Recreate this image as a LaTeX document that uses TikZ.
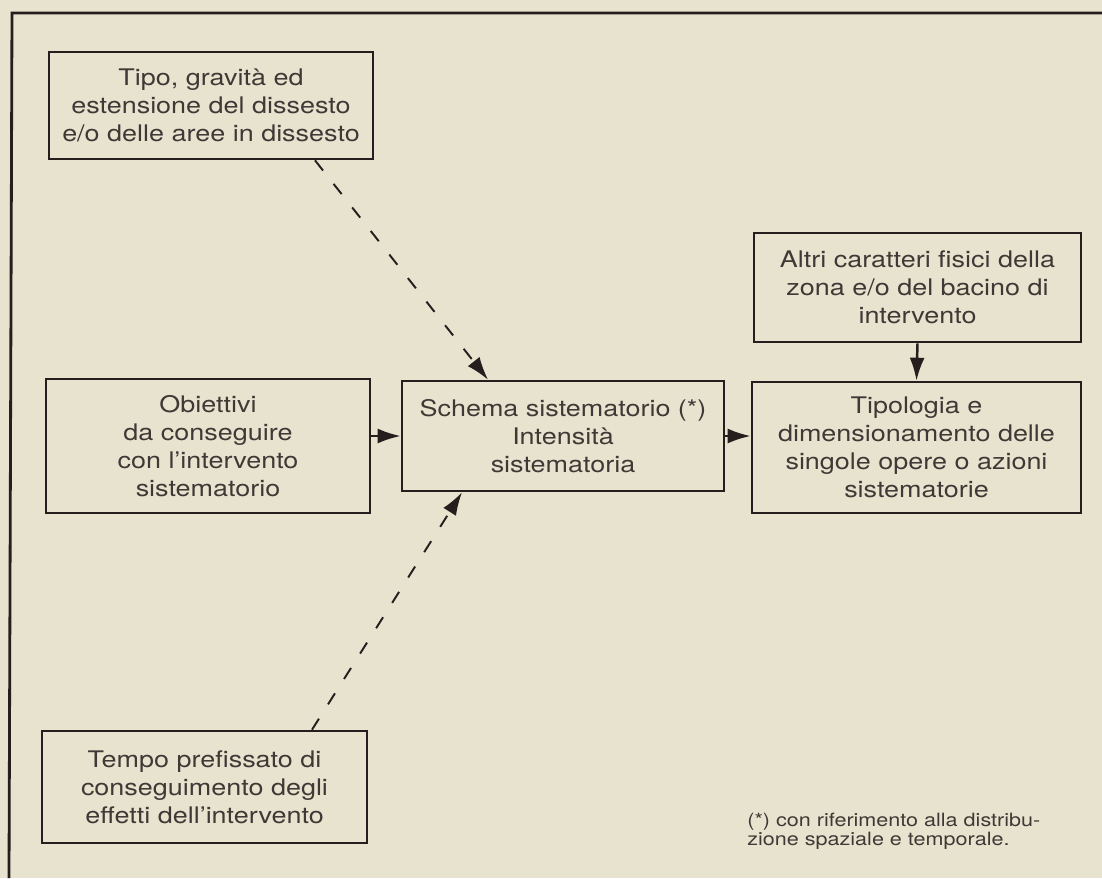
\documentclass[tikz,border=0pt]{standalone}
\usepackage{fontspec}
\setmainfont{TeX Gyre Heros}[FakeStretch=1.18]
\usepackage{xcolor}
\usetikzlibrary{arrows.meta, calc, positioning}

\definecolor{carta}{RGB}{231,227,206}
\definecolor{inchiostro}{RGB}{38,30,30}
\definecolor{testo}{RGB}{62,57,54}

\tikzset{
	blocco/.style={draw=inchiostro, line width=1.5pt, rectangle, align=center, text=testo, inner sep=0pt, font=\fontsize{13}{15.9}\selectfont},
	freccia/.style={draw=inchiostro, line width=1.4pt, -{Latex[length=4.6mm, width=3mm]}},
	tratteggio/.style={freccia, line width=1.1pt, dash pattern=on 2.6mm off 3.4mm},
	nota/.style={align=left, text=testo, inner sep=0pt, font=\fontsize{10.4}{10.8}\selectfont}
}

\begin{document}
\begin{tikzpicture}[x=0.2mm, y=-0.2mm]
			\fill[carta] (0,0) rectangle (1102,878);
			\useasboundingbox (0,0) rectangle (1102,878);
			
			\draw[inchiostro, line width=1.6pt] (1102,13) -- (12,13) -- (9,878);
			
			\node[blocco, minimum width=64.8mm, minimum height=21.4mm] (tipo) at (211,105.5) {Tipo, gravità ed\\estensione del dissesto\\e/o delle aree in dissesto};
			\node[blocco, minimum width=64.8mm, minimum height=26.8mm] (obiettivi) at (208,446) {Obiettivi\\da conseguire\\con l'intervento\\sistematorio};
			\node[blocco, minimum width=64.4mm, minimum height=22mm] (schema) at (563,436) {Schema sistematorio (*)\\Intensità\\sistematoria};
			\node[blocco, minimum width=65.4mm, minimum height=21.8mm] (altri) at (917.5,287.5) {Altri caratteri fisici della\\zona e/o del bacino di\\intervento};
			\node[blocco, minimum width=65.8mm, minimum height=26.2mm] (tipologia) at (916.5,447.5) {Tipologia e\\dimensionamento delle\\singole opere o azioni\\sistematorie};
			\node[blocco, minimum width=65mm, minimum height=22.4mm] (tempo) at (204.5,787) {Tempo prefissato di\\conseguimento degli\\effetti dell'intervento};
			
			\node[nota, anchor=north west] (nota) at (747,813) {(*) con riferimento alla distribu-\\zione spaziale e temporale.};
			
			\draw[freccia] (schema.west -| obiettivi.east) -- (schema.west);
			\draw[freccia] (schema.east) -- (schema.east -| tipologia.west);
			\draw[freccia] (altri.south) -- (tipologia.north);
			
			\draw[tratteggio] ($(tipo.south)+(104,0)$) -- ($(schema.north)+(-75,0)$);
			\draw[tratteggio] ($(tempo.north)+(107.5,0)$) -- ($(schema.south)+(-101,0)$);
		\end{tikzpicture}
\end{document}
